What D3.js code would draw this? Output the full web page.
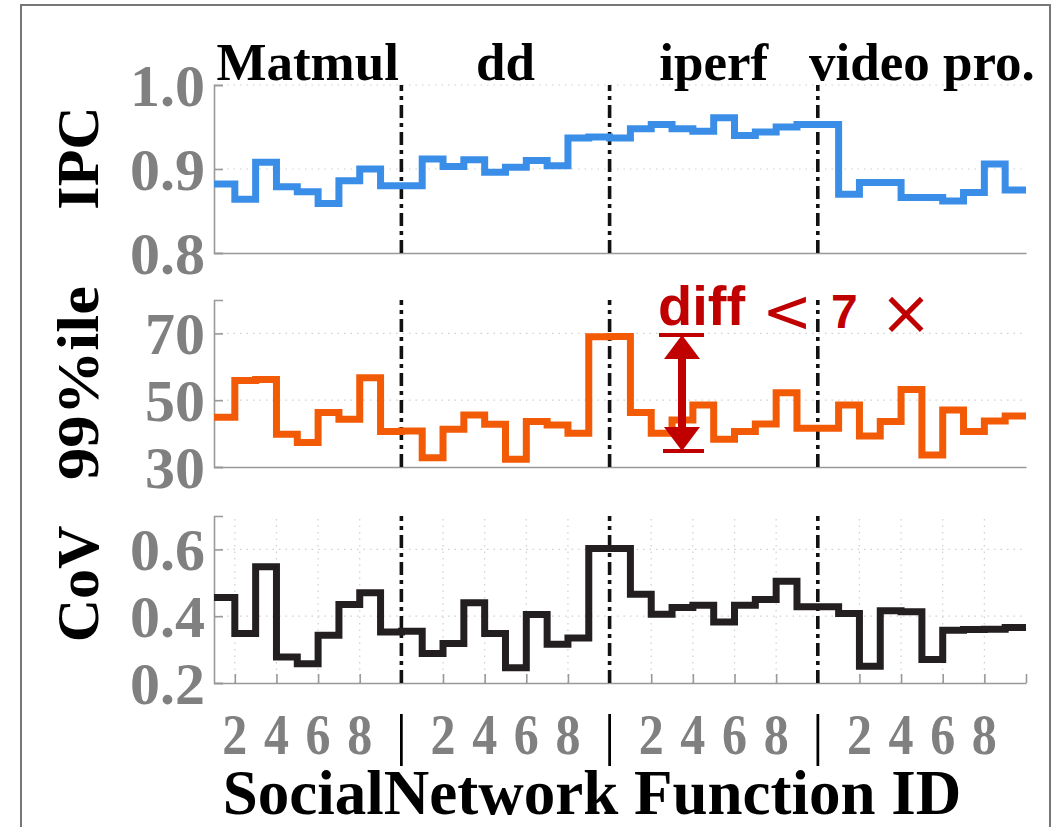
<!DOCTYPE html>
<html>
<head>
<meta charset="utf-8">
<script src="https://cdn.jsdelivr.net/npm/d3@7"></script>
<style>
html,body{margin:0;padding:0;background:#fff;}
svg{display:block;}
</style>
</head>
<body>
<svg id="chart" width="1058" height="827"></svg>
<script>
// ---------------- data ----------------
const functionIds = d3.range(1, 41);
const groups = ["Matmul", "dd", "iperf", "video pro."];
const groupBoundaries = [10, 20, 30];
const xTickValues = d3.range(2, 40, 2);
const xTickLabels = ["2","4","6","8","|","2","4","6","8","|","2","4","6","8","|","2","4","6","8"];

const ipc = [0.882,0.864,0.908,0.879,0.873,0.859,0.886,0.900,0.880,0.880,
             0.912,0.903,0.911,0.896,0.902,0.910,0.904,0.937,0.938,0.937,
             0.948,0.953,0.948,0.945,0.961,0.940,0.944,0.950,0.953,0.953,
             0.870,0.884,0.884,0.866,0.866,0.862,0.872,0.906,0.875,0.875];
const p99 = [44.9,55.9,56.2,39.8,37.3,46.3,44.3,56.7,40.6,40.8,
             32.8,41.3,45.6,42.8,32.3,43.6,42.6,40.1,69.0,69.1,
             46.3,40.1,44.1,48.6,38.3,40.6,42.9,52.2,41.6,41.6,
             48.6,39.3,43.6,53.2,33.6,47.1,40.6,43.8,45.3,45.3];
const cov = [0.456,0.348,0.548,0.278,0.258,0.343,0.435,0.470,0.353,0.355,
             0.288,0.318,0.440,0.348,0.246,0.405,0.316,0.335,0.603,0.603,
             0.466,0.406,0.426,0.433,0.383,0.433,0.450,0.505,0.428,0.428,
             0.408,0.250,0.416,0.413,0.270,0.358,0.360,0.361,0.366,0.366];

const ipcTicks = [0.8, 0.9, 1.0];
const p99Ticks = [30, 50, 70];
const covTicks = [0.2, 0.4, 0.6];

// ---------------- layout ----------------
const svg = d3.select("#chart");
const SERIF = "'Liberation Serif','Times New Roman',serif";
const SANS = "'Liberation Sans',Arial,sans-serif";
const GRAY = "#808080";

// frame
svg.append("rect").attr("x", 21).attr("y", 5).attr("width", 1029).attr("height", 840)
  .attr("fill", "none").attr("stroke", "#777").attr("stroke-width", 2);

const x = d3.scaleLinear().domain([1, 40]).range([214, 1026]);

const panels = [
  {name: "IPC", data: ipc, ticks: ipcTicks, domain: [0.8, 1.0], range: [253, 85], color: "#3a8ee8",
   fmt: d3.format(".1f"), label: "IPC", labelY: 158, labelLen: null, grid: [0.9, 1.0], vgrid: false, xticks: false},
  {name: "p99", data: p99, ticks: p99Ticks, domain: [30, 80], range: [467, 300], color: "#f25a05",
   fmt: d3.format("d"), label: "99%ile", labelY: 383, labelLen: 194, grid: [50, 70], vgrid: false, xticks: false},
  {name: "cov", data: cov, ticks: covTicks, domain: [0.2, 0.7], range: [683, 516], color: "#231f20",
   fmt: d3.format(".1f"), label: "CoV", labelY: 584, labelLen: null, grid: [0.4, 0.6], vgrid: true, xticks: true}
];

panels.forEach(p => {
  const y = d3.scaleLinear().domain(p.domain).range(p.range);
  const g = svg.append("g");
  const [y0, y1] = p.range;

  // grid
  g.selectAll(".hg").data(p.grid).enter().append("line")
    .attr("x1", x(1)).attr("x2", x(40)).attr("y1", d => y(d)).attr("y2", d => y(d))
    .attr("stroke", "#cfcfcf").attr("stroke-width", 1.2).attr("stroke-dasharray", "1.5,5");
  if (p.vgrid) {
    g.selectAll(".vg").data(xTickValues.filter(v => !groupBoundaries.includes(v))).enter().append("line")
      .attr("x1", d => x(d)).attr("x2", d => x(d)).attr("y1", y0).attr("y2", y1)
      .attr("stroke", "#cfcfcf").attr("stroke-width", 1.2).attr("stroke-dasharray", "1.5,5");
  }

  // axes lines
  const yAxis = d3.axisLeft(y).tickValues(p.ticks).tickSize(-9).tickFormat("");
  const ya = g.append("g").attr("transform", `translate(${x(1)},0)`).call(yAxis);
  ya.select(".domain").attr("stroke", "#999").attr("stroke-width", 1.6);
  ya.selectAll(".tick line").attr("stroke", "#999").attr("stroke-width", 1.6);

  const xAxis = d3.axisBottom(x).tickValues(p.xticks ? xTickValues.concat([40]) : []).tickSize(p.xticks ? -9 : 0).tickFormat("").tickSizeOuter(0);
  const xa = g.append("g").attr("transform", `translate(0,${y0})`).call(xAxis);
  xa.select(".domain").attr("stroke", "#999").attr("stroke-width", 1.6);
  xa.selectAll(".tick line").attr("stroke", "#999").attr("stroke-width", 1.6);

  // y tick labels
  g.selectAll(".yl").data(p.ticks).enter().append("text")
    .attr("x", 205).attr("y", d => y(d)).attr("dy", "0.35em")
    .attr("text-anchor", "end").attr("font-family", SERIF).attr("font-weight", "bold")
    .attr("font-size", 60).attr("fill", GRAY).text(d => p.fmt(d));

  // group boundaries (dash-dot)
  g.selectAll(".gb").data(groupBoundaries).enter().append("line")
    .attr("x1", d => x(d)).attr("x2", d => x(d)).attr("y1", y0).attr("y2", y1)
    .attr("stroke", "#111").attr("stroke-width", 3.6).attr("stroke-dasharray", "13,5,4,5");

  // step line
  const line = d3.line().x((d, i) => x(functionIds[i])).y(d => y(d)).curve(d3.curveStepAfter);
  g.append("path").datum(p.data).attr("d", line)
    .attr("fill", "none").attr("stroke", p.color).attr("stroke-width", 7)
    .attr("stroke-linejoin", "miter");

  // y label
  const t = svg.append("text").attr("transform", `translate(98,${p.labelY}) rotate(-90)`)
    .attr("text-anchor", "middle").attr("font-family", SERIF).attr("font-weight", "bold")
    .attr("font-size", 60).attr("fill", "#000").text(p.label);
  if (p.labelLen) t.attr("textLength", p.labelLen).attr("lengthAdjust", "spacingAndGlyphs");
});

// group titles
svg.selectAll(".gt").data(groups).enter().append("text")
  .attr("x", (d, i) => (x(i * 10 + (i === 0 ? 1 : 0)) + x(i === 3 ? 40 : (i + 1) * 10)) / 2)
  .attr("y", 80).attr("text-anchor", "middle").attr("font-family", SERIF).attr("font-weight", "bold")
  .attr("font-size", 53).attr("fill", "#000").text(d => d);

// x tick labels
svg.selectAll(".xt").data(xTickValues).enter().append("text")
  .attr("x", d => x(d)).attr("y", 754).attr("text-anchor", "middle")
  .attr("font-family", SERIF).attr("font-weight", (d, i) => xTickLabels[i] === "|" ? "normal" : "bold")
  .attr("font-size", 56).attr("fill", (d, i) => xTickLabels[i] === "|" ? "#000" : GRAY)
  .attr("textLength", (d, i) => xTickLabels[i] === "|" ? null : 25)
  .attr("lengthAdjust", "spacingAndGlyphs")
  .text((d, i) => xTickLabels[i]);

// x label
svg.append("text").attr("x", 592).attr("y", 814).attr("text-anchor", "middle")
  .attr("font-family", SERIF).attr("font-weight", "bold").attr("font-size", 63)
  .attr("fill", "#000").text("SocialNetwork Function ID");

// annotation
const RED = "#c00000";
const ann = svg.append("g");
const yP = d3.scaleLinear().domain([30, 80]).range([467, 300]);
const aTop = yP(69.5), aBot = yP(34.8), ax = 682;
ann.append("line").attr("x1", 659).attr("x2", 704).attr("y1", aTop).attr("y2", aTop).attr("stroke", RED).attr("stroke-width", 4);
ann.append("line").attr("x1", 663).attr("x2", 704).attr("y1", aBot).attr("y2", aBot).attr("stroke", RED).attr("stroke-width", 4);
ann.append("line").attr("x1", ax).attr("x2", ax).attr("y1", aTop + 15).attr("y2", aBot - 15).attr("stroke", RED).attr("stroke-width", 8);
ann.append("path").attr("d", `M${ax},${aTop} L${ax - 18},${aTop + 24} L${ax + 18},${aTop + 24} Z`).attr("fill", RED);
ann.append("path").attr("d", `M${ax},${aBot} L${ax - 18},${aBot - 24} L${ax + 18},${aBot - 24} Z`).attr("fill", RED);

ann.append("text").attr("x", 658).attr("y", 325).attr("font-family", SANS).attr("font-weight", "bold")
  .attr("font-size", 56).attr("fill", RED).text("diff");
ann.append("text").attr("x", 762).attr("y", 332).attr("font-family", "'DejaVu Sans',sans-serif").attr("font-weight", "normal")
  .attr("font-size", 60).attr("fill", RED).text("<");
ann.append("text").attr("x", 831).attr("y", 328).attr("font-family", SANS).attr("font-weight", "bold")
  .attr("font-size", 48).attr("fill", RED).text("7");
ann.append("text").attr("x", 880).attr("y", 334).attr("font-family", "'DejaVu Sans',sans-serif").attr("font-weight", "normal")
  .attr("font-size", 62).attr("fill", RED).text("×");
</script>
</body>
</html>
